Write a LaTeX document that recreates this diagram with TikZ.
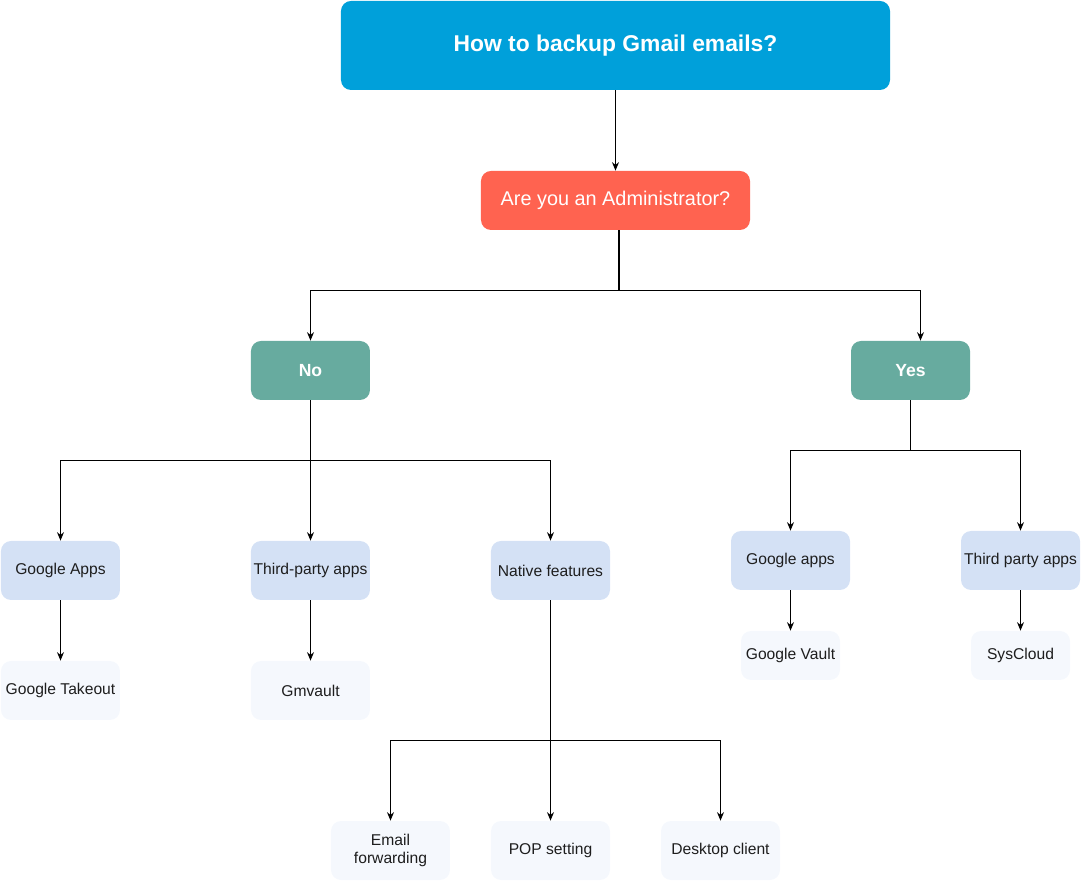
\documentclass[tikz,border=0pt]{standalone}
\usepackage{fontspec}
\setmainfont{Liberation Sans}
\usepackage{xcolor}
\usetikzlibrary{positioning, arrows.meta}
\definecolor{titleblue}{RGB}{0,160,218}
\definecolor{askred}{RGB}{255,99,80}
\definecolor{answergreen}{RGB}{103,171,159}
\definecolor{wayblue}{RGB}{212,225,245}
\definecolor{toolblue}{RGB}{245,248,253}
\definecolor{textgray}{RGB}{30,30,30}

\begin{document}
\begin{tikzpicture}[on grid, >={Stealth[length=1.7mm, width=1.4mm]},
    box/.style={rectangle, rounded corners=0.2cm, inner sep=0pt, align=center},
    headbox/.style={box, fill=titleblue, text=white, minimum width=10.98cm, minimum height=1.78cm, font=\fontsize{13}{15}\selectfont\bfseries},
    askbox/.style={box, fill=askred, text=white, minimum width=5.38cm, minimum height=1.18cm, font=\fontsize{11.3}{13}\selectfont},
    answerbox/.style={box, fill=answergreen, text=white, minimum width=2.38cm, minimum height=1.18cm, font=\fontsize{10}{12}\selectfont\bfseries},
    waybox/.style={box, fill=wayblue, text=textgray, minimum width=2.38cm, minimum height=1.18cm, font=\fontsize{8.9}{10.6}\selectfont},
    toolbox/.style={box, fill=toolblue, text=textgray, minimum width=2.38cm, minimum height=1.18cm, font=\fontsize{8.9}{10.6}\selectfont},
    smalltool/.style={toolbox, minimum width=1.98cm, minimum height=0.98cm},
    link/.style={->, line width=0.6pt}]
    \useasboundingbox (-12.31,0.91) rectangle (9.31,-16.71);

    \node[headbox] (title) {How to backup Gmail emails?};
    \node[askbox, below=3.1cm of title] (admin) {Are you an Administrator?};
    \node[answerbox, below left=3.4cm and 6.1cm of admin] (no) {No};
    \node[answerbox, below right=3.4cm and 5.9cm of admin] (yes) {Yes};

    \node[waybox, below left=4cm and 5cm of no] (gapps) {Google Apps};
    \node[waybox, below=4cm of no] (tpapps) {Third-party apps};
    \node[waybox, below right=4cm and 4.8cm of no] (native) {Native features};
    \node[toolbox, below=2.4cm of gapps] (takeout) {Google Takeout};
    \node[toolbox, below=2.4cm of tpapps] (gmvault) {Gmvault};
    \node[toolbox, below left=5.6cm and 3.2cm of native] (email) {Email\\forwarding};
    \node[toolbox, below=5.6cm of native] (pop) {POP setting};
    \node[toolbox, below right=5.6cm and 3.4cm of native] (desktop) {Desktop client};

    \node[waybox, below left=3.8cm and 2.4cm of yes] (gapps2) {Google apps};
    \node[waybox, below right=3.8cm and 2.2cm of yes] (tpapps2) {Third party apps};
    \node[smalltool, below=1.9cm of gapps2] (vault) {Google Vault};
    \node[smalltool, below=1.9cm of tpapps2] (syscloud) {SysCloud};

    \draw[link] (title) -- (admin);
    \draw[link] ([xshift=0.07cm]admin.south) -- ++(0,-1.2) -| (no);
    \draw[link] ([xshift=0.07cm]admin.south) -- ++(0,-1.2) -| ([xshift=0.2cm]yes.north);

    \draw[link] (no.south) -- ++(0,-1.2) -| (gapps);
    \draw[link] (no.south) -- (tpapps);
    \draw[link] (no.south) -- ++(0,-1.2) -| (native);
    \draw[link] (gapps) -- (takeout);
    \draw[link] (tpapps) -- (gmvault);
    \draw[link] (native.south) -- ++(0,-2.8) -| (email);
    \draw[link] (native) -- (pop);
    \draw[link] (native.south) -- ++(0,-2.8) -| (desktop);

    \draw[link] (yes.south) -- ++(0,-1) -| (gapps2);
    \draw[link] (yes.south) -- ++(0,-1) -| (tpapps2);
    \draw[link] (gapps2) -- (vault);
    \draw[link] (tpapps2) -- (syscloud);
\end{tikzpicture}
\end{document}
